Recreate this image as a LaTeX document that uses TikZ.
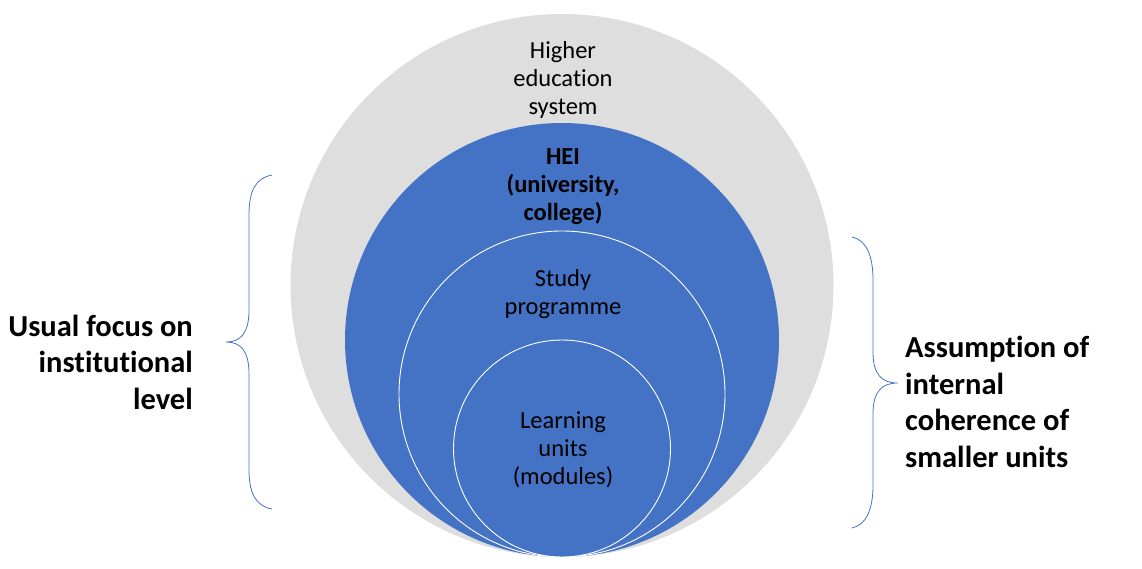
\documentclass[tikz,border=0pt]{standalone}
\usepackage{fontspec}
\setmainfont[Ligatures={NoCommon}]{Carlito}
\definecolor{hblue}{HTML}{4472C4}
\definecolor{hgray}{HTML}{DEDEDE}
\tikzset{
  ring/.style={circle, inner sep=0pt, outer sep=0pt},
  inner ring/.style={ring, fill=hblue, draw=white, line width=0.9pt},
  lbl/.style={align=center, inner sep=0pt, font=\fontsize{24.5}{28}\selectfont},
  side/.style={inner sep=0pt, font=\bfseries\fontsize{30.5}{36.5}\selectfont},
  bracepath/.style={draw=hblue, line width=0.8pt}
}
\begin{document}
\begin{tikzpicture}[x=1pt,y=-1pt]
\useasboundingbox (0,0) rectangle (1142,569);
\node[ring, fill=hgray, minimum size=543pt] (sys) at (562,285.5) {};
\node[ring, fill=hblue, minimum size=434pt] (hei) at (562,340) {};
\node[inner ring, minimum size=326pt] (prog) at (562,394) {};
\node[inner ring, minimum size=217pt] (unit) at (562,448.5) {};

\node[lbl] (tsys) at (563,80) {Higher\\education\\system};
\node[lbl, font=\bfseries\fontsize{24.5}{28}\selectfont] (thei) at (563,187) {HEI\\(university,\\college)};
\node[lbl] (tprog) at (563,294) {Study\\programme};
\node[lbl] (tunit) at (563,450) {Learning\\units\\(modules)};

\node[side, align=right, anchor=east] (left) at (193,362) {Usual focus on\\institutional\\level};
\node[side, align=left, anchor=west] (right) at (905,402) {Assumption of\\internal\\coherence of\\smaller units};

\draw[bracepath] (272,175) .. controls (256,178) and (249,190) .. (249,215) -- (249,310)
  .. controls (249,334) and (240,342) .. (226,342)
  .. controls (240,342) and (249,350) .. (249,374) -- (249,469)
  .. controls (249,494) and (256,506) .. (272,509);
\draw[bracepath] (852,237) .. controls (866,240) and (873,255) .. (873,280) -- (873,352)
  .. controls (873,375) and (882,383) .. (898,383)
  .. controls (882,383) and (873,391) .. (873,414) -- (873,485)
  .. controls (873,510) and (866,525) .. (852,528);
\end{tikzpicture}
\end{document}
